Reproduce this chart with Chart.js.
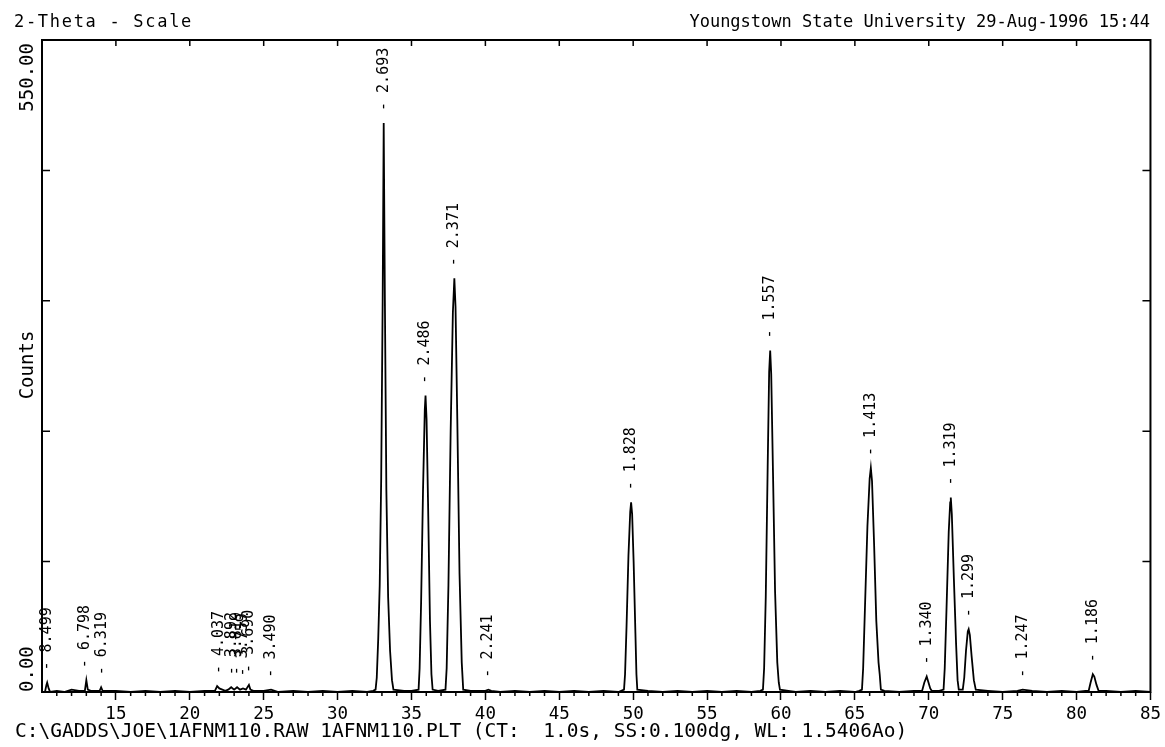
<!DOCTYPE html>
<html>
<head>
<meta charset="utf-8">
<script src="https://cdn.jsdelivr.net/npm/chart.js@4.4.1/dist/chart.umd.min.js"></script>
<style>
  html, body { margin: 0; padding: 0; background: #fff; }
  #wrap { width: 1165px; height: 747px; }
</style>
</head>
<body>
<div id="wrap"><canvas id="myChart"></canvas></div>
<script>
// diffraction profile (2-theta in degrees, counts)
const twoTheta = [
	10.0, 10.2, 10.3, 10.35, 10.45, 10.55, 11.0, 11.5, 12.0, 12.5,
	12.9, 13.0, 13.1, 13.3, 13.9, 14.0, 14.1, 15, 16, 17, 18, 19, 20, 21,
	21.7, 21.85, 22.0, 22.2, 22.4, 22.6, 22.8, 23.0, 23.2, 23.4, 23.6, 23.8, 24.0, 24.1, 24.3,
	25.0, 25.5, 26, 27, 28, 29, 30, 31, 32, 32.4,
	32.57, 32.65, 32.75, 32.85, 32.95, 33.05, 33.12, 33.2, 33.3, 33.42, 33.55, 33.68, 33.78,
	34.5, 35.0,
	35.48, 35.55, 35.65, 35.78, 35.9, 35.95, 36.02, 36.12, 36.25, 36.35, 36.43,
	36.8,
	37.3, 37.38, 37.5, 37.65, 37.8, 37.9, 37.98, 38.1, 38.25, 38.4, 38.5,
	39, 40, 40.2, 40.4, 41, 42, 43, 44, 45, 46, 47, 48, 49,
	49.38, 49.45, 49.55, 49.68, 49.8, 49.86, 49.93, 50.03, 50.15, 50.22, 50.28,
	51, 52, 53, 54, 55, 56, 57, 58, 58.6,
	58.78, 58.86, 58.97, 59.1, 59.2, 59.27, 59.34, 59.46, 59.6, 59.75, 59.85, 59.93,
	60.5, 61, 62, 63, 64, 65, 65.3,
	65.48, 65.56, 65.68, 65.85, 66.0, 66.08, 66.16, 66.3, 66.45, 66.6, 66.68, 66.76,
	67, 68, 69, 69.4,
	69.55, 69.7, 69.86, 69.98, 70.1, 70.2,
	70.7,
	71.0, 71.08, 71.2, 71.35, 71.45, 71.49, 71.56, 71.7, 71.85, 71.95, 72.03,
	72.3, 72.4, 72.52, 72.64, 72.7, 72.78, 72.9, 73.05, 73.18,
	74, 75, 76, 76.35, 77, 78, 79, 80, 80.6,
	80.82, 80.95, 81.1, 81.2, 81.35, 81.49,
	82, 83, 84, 85
];
const counts = [
	0, 0, 6, 8, 3, 0, 1, 0, 2, 1,
	1, 10, 2, 1, 1, 4, 1, 1, 0, 1, 0, 1, 0, 1,
	1, 5, 3, 2, 1, 2, 4, 2, 4, 2, 3, 2, 6, 2, 1,
	1, 2, 0, 1, 0, 1, 0, 1, 0, 1,
	2, 12, 45, 90, 180, 330, 480, 330, 170, 80, 35, 10, 2,
	1, 1,
	2, 20, 75, 170, 238, 250, 230, 160, 60, 15, 2,
	1,
	2, 20, 90, 220, 320, 349, 325, 230, 100, 25, 2,
	1, 1, 2, 1, 0, 1, 0, 1, 0, 1, 0, 1, 0,
	2, 15, 55, 115, 152, 160, 150, 110, 50, 15, 2,
	1, 0, 1, 0, 1, 0, 1, 0, 1,
	2, 20, 80, 190, 270, 288, 268, 185, 85, 25, 8, 2,
	1, 0, 1, 0, 1, 0, 1,
	2, 20, 70, 140, 180, 189, 178, 125, 60, 25, 15, 2,
	1, 0, 1, 1,
	1, 8, 13, 8, 3, 1,
	1,
	2, 20, 70, 135, 160, 164, 150, 95, 40, 10, 2,
	2, 12, 35, 51, 53, 48, 30, 10, 2,
	1, 0, 1, 2, 1, 0, 1, 0, 1,
	1, 8, 15, 13, 6, 1,
	1, 0, 1, 0
];

// d-spacing labels, where they sit and the peak height under them
const peakD = ["8.499", "6.798", "6.319", "4.037", "3.892", "3.819", "3.759", "3.690", "3.490",
	"2.693", "2.486", "2.371", "2.241", "1.828", "1.557", "1.413", "1.340", "1.319", "1.299", "1.247", "1.186"];
const peakTheta = [10.33, 12.95, 14.05, 21.96, 22.84, 23.2, 23.6, 24.0, 25.47,
	33.12, 35.95, 37.9, 40.2, 49.86, 59.27, 66.08, 69.86, 71.49, 72.7, 76.35, 81.15];
const peakCounts = [8, 10, 4, 5, 4, 4, 3, 6, 2,
	480, 250, 349, 2, 160, 288, 189, 13, 164, 53, 2, 15];

const xTicks = [15, 20, 25, 30, 35, 40, 45, 50, 55, 60, 65, 70, 75, 80, 85];
const yTicks = [0, 110, 220, 330, 440, 550];
const yLabelled = [0, 550];

const mono = "'DejaVu Sans Mono', monospace";

const decorations = {
	id: "decorations",
	afterDraw(chart) {
		const ctx = chart.ctx;
		const area = chart.chartArea;
		const xs = chart.scales.x;
		const ys = chart.scales.y;
		ctx.save();
		ctx.strokeStyle = "#000";
		ctx.fillStyle = "#000";

		// frame
		ctx.lineWidth = 2;
		ctx.strokeRect(area.left, area.top, area.right - area.left, area.bottom - area.top);

		// minor ticks below the x axis, every degree
		ctx.lineWidth = 1.5;
		ctx.beginPath();
		for (let v = 11; v < 85; v++) {
			if (v % 5 === 0) continue;
			const px = xs.getPixelForValue(v);
			ctx.moveTo(px, area.bottom);
			ctx.lineTo(px, area.bottom + 4);
		}
		// top ticks pointing in
		xTicks.forEach(v => {
			if (v >= 85) return;
			const px = xs.getPixelForValue(v);
			ctx.moveTo(px, area.top);
			ctx.lineTo(px, area.top + 6);
		});
		// left and right ticks pointing in
		yTicks.slice(1, -1).forEach(v => {
			const py = ys.getPixelForValue(v);
			ctx.moveTo(area.left, py);
			ctx.lineTo(area.left + 8, py);
			ctx.moveTo(area.right, py);
			ctx.lineTo(area.right - 8, py);
		});
		ctx.stroke();

		// header and footer
		ctx.textBaseline = "alphabetic";
		ctx.font = "17px " + mono;
		ctx.letterSpacing = "1.7px";
		ctx.textAlign = "left";
		ctx.fillText("2-Theta - Scale", 14, 27);
		ctx.letterSpacing = "0px";
		ctx.textAlign = "right";
		ctx.fillText("Youngstown State University 29-Aug-1996 15:44", 1150, 27);
		ctx.textAlign = "left";
		ctx.font = "19.5px " + mono;
		ctx.fillText("C:\\GADDS\\JOE\\1AFNM110.RAW 1AFNM110.PLT (CT:  1.0s, SS:0.100dg, WL: 1.5406Ao)", 15, 737);

		// rotated y labels
		ctx.font = "19px " + mono;
		ctx.textBaseline = "middle";
		yLabelled.forEach(v => {
			const py = ys.getPixelForValue(v);
			ctx.save();
			ctx.translate(28, v === 0 ? py : py + 3);
			ctx.rotate(-Math.PI / 2);
			ctx.textAlign = v === 0 ? "left" : "right";
			ctx.fillText(v.toFixed(2), 0, 0);
			ctx.restore();
		});
		ctx.save();
		ctx.translate(28, 365);
		ctx.rotate(-Math.PI / 2);
		ctx.textAlign = "center";
		ctx.fillText("Counts", 0, 0);
		ctx.restore();

		// d-spacing labels above peaks
		ctx.font = "15px " + mono;
		const floorY = ys.getPixelForValue(0) - 14;
		peakD.forEach((d, i) => {
			const px = xs.getPixelForValue(peakTheta[i]);
			const py = Math.min(ys.getPixelForValue(peakCounts[i]) - 12, floorY);
			ctx.save();
			ctx.translate(px, py);
			ctx.rotate(-Math.PI / 2);
			ctx.textAlign = "left";
			ctx.fillText("- " + d, 0, 0);
			ctx.restore();
		});
		ctx.restore();
	},
};

const ctx = document.getElementById("myChart");

let myChart = new Chart(ctx, {
	type: "line",
	data: {
		datasets: [
			{
				label: "1AFNM110",
				data: twoTheta.map((t, i) => ({ x: t, y: counts[i] })),
				borderColor: "#000",
				borderWidth: 1.8,
				pointRadius: 0,
				tension: 0,
				fill: false,
			},
		],
	},
	options: {
		responsive: true,
		maintainAspectRatio: false,
		animation: false,
		layout: {
			padding: { left: 42, right: 2, top: 40, bottom: 18 },
		},
		plugins: {
			legend: { display: false },
			tooltip: { enabled: false },
		},
		scales: {
			x: {
				type: "linear",
				min: 10,
				max: 85,
				afterBuildTicks: (axis) => {
					axis.ticks = xTicks.map(v => ({ value: v }));
				},
				grid: {
					drawOnChartArea: false,
					drawTicks: true,
					tickLength: 8,
					tickColor: "#000",
					tickWidth: 1.5,
				},
				border: { display: false },
				ticks: {
					color: "#000",
					padding: 4,
					maxRotation: 0,
					autoSkip: false,
					font: { family: mono, size: 17.5 },
				},
			},
			y: {
				display: false,
				min: 0,
				max: 550,
			},
		},
	},
	plugins: [decorations],
});
</script>
</body>
</html>
